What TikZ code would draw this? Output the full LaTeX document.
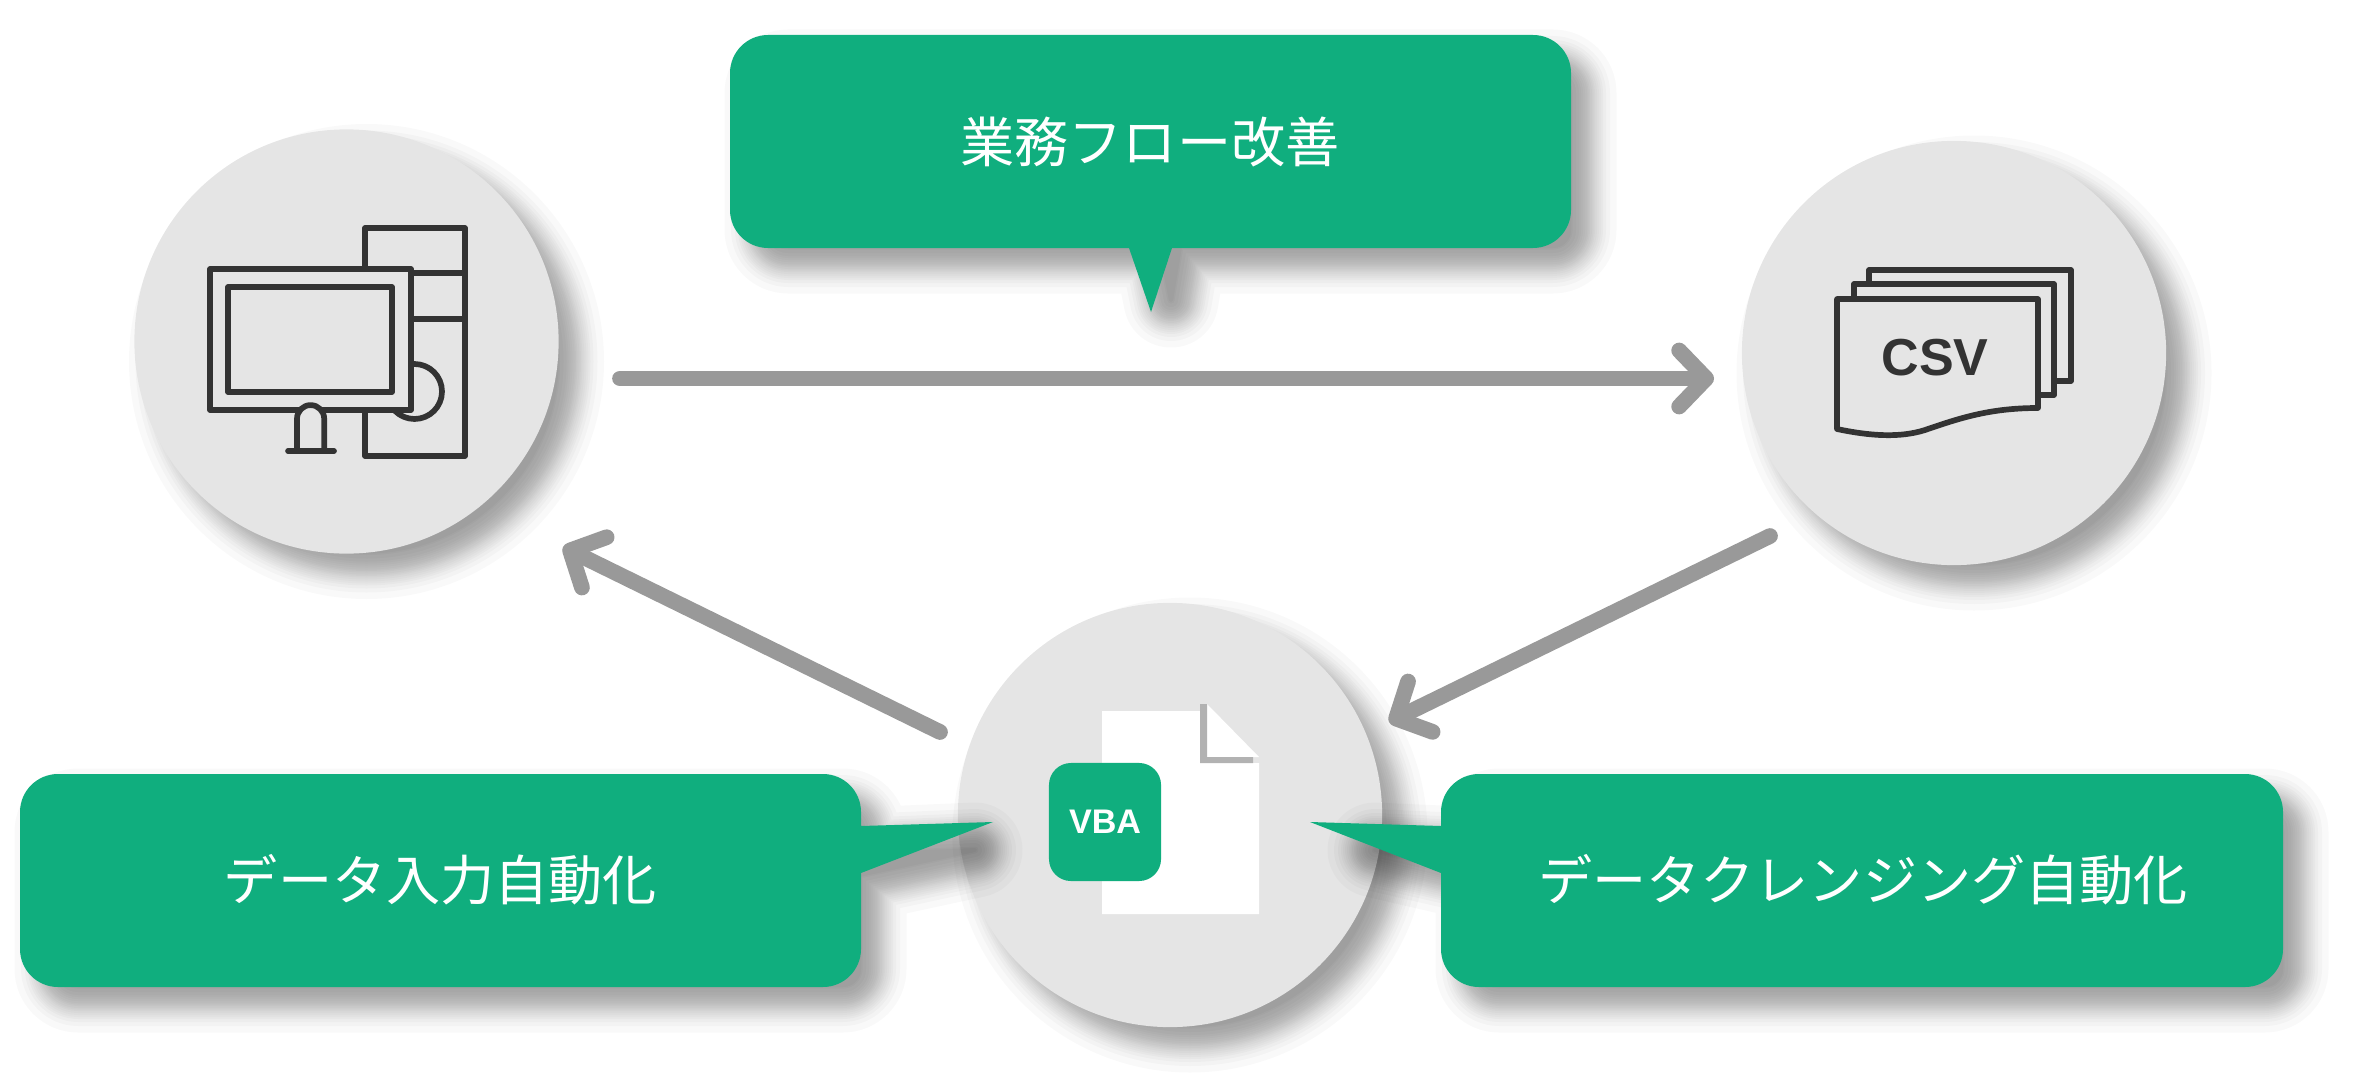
\documentclass[tikz,border=0pt]{standalone}
\usepackage{fontspec}
\setsansfont{Liberation Sans}
\newfontfamily\jpfont{Noto Sans CJK JP}
\usetikzlibrary{arrows.meta}
\definecolor{leaf}{HTML}{10AE7E}
\definecolor{disc}{HTML}{E5E5E5}
\definecolor{ink}{HTML}{333333}
\definecolor{flowgray}{HTML}{999999}
\tikzset{
	softlayer/.style={fill=black,draw=black,line width=#1*.01cm,line join=round,line cap=round},
	bubble/.style={fill=leaf},
	disknode/.style={circle,fill=disc,minimum size=4.24cm,inner sep=0pt},
	bubbletext/.style={text=white,font=\jpfont\fontsize{15.4}{18}\selectfont,inner sep=0pt},
	icon/.style={draw=ink,line width=.057cm,line join=round},
	flow/.style={draw=flowgray,line width=.157cm,line cap=round,line join=round,-{Straight Barb[length=.27cm,width=.56cm,line cap=round,line join=round]}}
}
% stacked strokes give the soft shadow of a shape
\newcommand{\softshadow}[1]{
	\foreach \w in {4,7,14,20,24,28,32,36,39,42,46,49,52,56,60,64,68,74,82,95}{
		\begin{scope}[shift={(20,20)},transparency group,opacity=.024]
			\path[softlayer=\w] #1;
		\end{scope}
	}
}
\begin{document}
\begin{tikzpicture}[x=.01cm,y=-.01cm]
		\useasboundingbox (0,0) rectangle (2355,1088);
		% discs
		\softshadow{(346.5,341.5) circle (190)}
		\softshadow{(1954,353) circle (190)}
		\softshadow{(1170,815) circle (190)}
		\node[disknode] (pc) at (346.5,341.5) {};
		\node[disknode] (csvfile) at (1954,353) {};
		\node[disknode] (vba) at (1170,815) {};
		% flow arrows
		\coordinate (pcout) at (620,378.5);
		\coordinate (csvin) at (1714,378.5);
		\coordinate (csvout) at (1770,536);
		\coordinate (vbain) at (1389,722);
		\coordinate (vbaout) at (940,732);
		\coordinate (pcin) at (563,547);
		\draw[flow] (pcout) -- (csvin);
		\draw[flow] (csvout) -- (vbain);
		\draw[flow] (vbaout) -- (pcin);
		% speech bubbles
		\softshadow{(900,57) [rounded corners=.16cm] -- (1549,57) -- (1549,226) [sharp corners] -- (1160,226) -- (1151,280) -- (1140,226) [rounded corners=.16cm] -- (752,226) -- (752,57) -- (900,57)}
		\softshadow{(400,796) [rounded corners=.16cm] -- (839,796) [sharp corners] -- (839,835) -- (955,830) -- (839,855) [rounded corners=.16cm] -- (839,965) -- (42,965) -- (42,796) -- (400,796)}
		\softshadow{(1463,835) -- (1355,830) -- (1463,855) [rounded corners=.16cm] -- (1463,965) -- (2261,965) -- (2261,796) -- (1463,796) [sharp corners] -- cycle}
		\path[bubble] (900,35) [rounded corners=.38cm] -- (1571,35) -- (1571,248) [sharp corners] -- (1172,248) -- (1151,312) -- (1129,248) [rounded corners=.38cm] -- (730,248) -- (730,35) -- (900,35);
		\path[bubble] (400,774) [rounded corners=.38cm] -- (861,774) [sharp corners] -- (861,826) -- (993,822) -- (861,873) [rounded corners=.38cm] -- (861,987) -- (20,987) -- (20,774) -- (400,774);
		\path[bubble] (1441,826) -- (1310,822) -- (1441,873) [rounded corners=.38cm] -- (1441,987) -- (2283,987) -- (2283,774) -- (1441,774) [sharp corners] -- cycle;
		\node[bubbletext] (flowlabel) at (1150,142) {業務フロー改善};
		\node[bubbletext] (inputlabel) at (440.5,880) {データ入力自動化};
		\node[bubbletext] (cleanlabel) at (1863,880) {データクレンジング自動化};
		% computer
		\draw[icon] (365,228) rectangle (465,456);
		\draw[icon] (411,273) -- (465,273) (411,319) -- (465,319);
		\draw[icon,fill=disc] (414.5,391.5) circle (27.5);
		\draw[icon,fill=disc] (210,269) rectangle (411,410);
		\draw[icon] (228,287) rectangle (392,392);
		\draw[icon,fill=disc] (297,451) -- (297,418.7) arc (180:360:13.6) -- (324.2,451);
		\draw[icon,line cap=round] (288,451) -- (334,451);
		% stacked files
		\draw[icon,fill=disc] (1869,270) -- (2071,270) -- (2071,381) -- (1869,381) -- cycle;
		\draw[icon,fill=disc] (1854,284) -- (2054,284) -- (2054,395) -- (1854,395) -- cycle;
		\draw[icon,fill=disc] (1837,299) -- (2038,299) -- (2038,408) .. controls (1990,408) and (1960,418) .. (1925,430) .. controls (1900,438) and (1870,436) .. (1837,429) -- cycle;
		\node[text=ink,font=\sffamily\bfseries\fontsize{14.8}{16}\selectfont,inner sep=0pt] (csvlabel) at (1935,358) {CSV};
		% macro file
		\fill[white] (1102,711) -- (1200,711) -- (1200,763) -- (1259,763) -- (1259,914) -- (1102,914) -- cycle;
		\fill[white] (1207,704) -- (1259,757) -- (1207,757) -- cycle;
		\fill[black!30] (1200,704) -- (1207,704) -- (1207,757) -- (1253,757) -- (1253,763) -- (1200,763) -- cycle;
		\node[fill=leaf,rounded corners=.22cm,minimum width=1.12cm,minimum height=1.18cm,inner sep=0pt,text=white,font=\sffamily\bfseries\fontsize{9.7}{12}\selectfont] (vbabadge) at (1105,822) {VBA};
\end{tikzpicture}
\end{document}
